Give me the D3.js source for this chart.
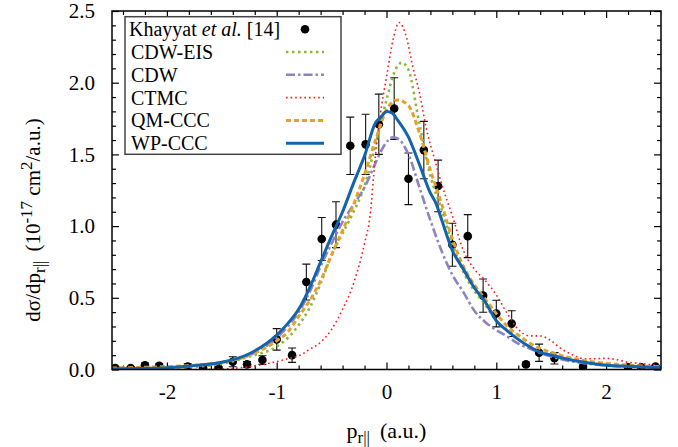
<!DOCTYPE html>
<html>
<head>
<meta charset="utf-8">
<script src="https://cdn.jsdelivr.net/npm/d3@7"></script>
<style>
  body { margin: 0; background: #fff; }
  svg text { font-family: "Liberation Serif", "Times New Roman", "DejaVu Serif", serif !important; }
</style>
</head>
<body>
<div id="chart"></div>
<script>

// Khayyat et al. [14] measured points
var expX = [-2.47,-2.33,-2.2,-2.07,-1.81,-1.67,-1.53,-1.4,-1.27,-1.13,-1.0,-0.86,-0.73,-0.59,-0.46,-0.33,-0.19,-0.07,0.07,0.2,0.34,0.47,0.6,0.74,0.88,1.0,1.14,1.27,1.39,1.53,1.79,2.2,2.32,2.45];
var expY = [0.01,0.01,0.03,0.025,0.02,0.01,0.01,0.054,0.036,0.066,0.21,0.1,0.61,0.91,1.01,1.56,1.57,1.71,1.82,1.33,1.53,1.28,0.87,0.93,0.515,0.39,0.32,0.036,0.117,0.078,0.02,0.015,0.015,0.02];
var expErr = [0.01,0.01,0.015,0.015,0.02,0.01,0.01,0.035,0.02,0.03,0.075,0.05,0.125,0.15,0.16,0.2,0.21,0.21,0.215,0.18,0.2,0.18,0.15,0.15,0.116,0.093,0.09,0.015,0.06,0.04,0.01,0.01,0.01,0.01];

// theory curves
var cdweisX = [-2.5,-2.25,-2,-1.75,-1.5,-1.25,-1,-0.9,-0.8,-0.7,-0.6,-0.5,-0.4,-0.3,-0.2,-0.1,0,0.07,0.14,0.2,0.3,0.4,0.5,0.6,0.7,0.8,0.9,1,1.1,1.2,1.3,1.4,1.5,1.6,1.8,2,2.2,2.5];
var cdweisY = [0.003,0.006,0.01,0.018,0.04,0.09,0.16,0.22,0.31,0.43,0.6,0.8,0.95,1.1,1.28,1.57,1.88,2.07,2.14,2.09,1.71,1.35,1.12,0.88,0.68,0.55,0.45,0.34,0.27,0.21,0.16,0.12,0.1,0.08,0.05,0.032,0.022,0.012];

var cdwX = [-2.5,-2.25,-2,-1.75,-1.5,-1.25,-1,-0.9,-0.8,-0.7,-0.6,-0.5,-0.4,-0.3,-0.2,-0.1,-0.03,0.06,0.12,0.2,0.3,0.4,0.5,0.6,0.7,0.8,0.9,1,1.1,1.2,1.3,1.4,1.5,1.6,1.8,2,2.2,2.5];
var cdwY = [0.003,0.007,0.013,0.025,0.05,0.1,0.22,0.3,0.4,0.54,0.72,0.88,1.03,1.15,1.27,1.44,1.55,1.62,1.6,1.5,1.27,1.04,0.83,0.66,0.54,0.41,0.33,0.275,0.23,0.18,0.148,0.115,0.09,0.07,0.044,0.028,0.02,0.012];

var ctmcX = [-2.5,-2,-1.75,-1.5,-1.25,-1,-0.9,-0.8,-0.7,-0.6,-0.5,-0.4,-0.3,-0.2,-0.15,-0.1,-0.06,0,0.06,0.115,0.18,0.24,0.3,0.36,0.44,0.5,0.6,0.7,0.8,0.9,1,1.1,1.2,1.3,1.4,1.5,1.6,1.7,1.8,1.9,2,2.1,2.2,2.3,2.4,2.5];
var ctmcY = [0,0,0,0.003,0.02,0.055,0.075,0.095,0.14,0.19,0.28,0.42,0.6,0.88,1.07,1.5,1.76,2.04,2.3,2.42,2.32,2.11,1.93,1.69,1.46,1.3,1.07,0.83,0.7,0.62,0.52,0.39,0.28,0.235,0.234,0.2,0.14,0.1,0.075,0.075,0.078,0.068,0.05,0.043,0.035,0.024];

var qmcccX = [-2.5,-2.25,-2,-1.75,-1.5,-1.25,-1,-0.9,-0.8,-0.7,-0.6,-0.5,-0.4,-0.3,-0.2,-0.1,0,0.1,0.2,0.3,0.4,0.5,0.6,0.7,0.8,0.9,1,1.1,1.2,1.3,1.4,1.5,1.6,1.8,2,2.2,2.5];
var qmcccY = [0.01,0.015,0.02,0.03,0.05,0.1,0.2,0.26,0.37,0.48,0.62,0.8,0.97,1.15,1.36,1.6,1.81,1.88,1.84,1.65,1.39,1.16,0.91,0.72,0.59,0.49,0.39,0.3,0.24,0.187,0.145,0.12,0.095,0.062,0.043,0.03,0.018];

var wpcccX = [-2.5,-2.25,-2,-1.75,-1.5,-1.25,-1,-0.9,-0.8,-0.7,-0.6,-0.5,-0.4,-0.3,-0.2,-0.1,-0.05,0,0.05,0.1,0.2,0.3,0.4,0.45,0.5,0.6,0.7,0.8,0.9,1,1.1,1.2,1.3,1.4,1.5,1.6,1.8,2,2.2,2.5];
var wpcccY = [0.003,0.007,0.013,0.027,0.05,0.11,0.24,0.32,0.42,0.57,0.75,0.93,1.1,1.3,1.49,1.72,1.76,1.8,1.79,1.74,1.62,1.43,1.23,1.16,1.05,0.83,0.7,0.57,0.47,0.34,0.27,0.21,0.16,0.12,0.1,0.08,0.05,0.03,0.022,0.012];

var xTicks = [-2, -1, 0, 1, 2];
var yTicks = [0, 0.5, 1, 1.5, 2, 2.5];

// set the dimensions and margins of the graph
var W = 678, H = 447;
var margin = {top: 11, right: 17, bottom: 77.5, left: 112},
    width = W - margin.left - margin.right,
    height = H - margin.top - margin.bottom;

var svg = d3.select("#chart")
  .append("svg")
  .attr("width", W)
  .attr("height", H)
  .attr("font-family", "Liberation Serif, serif")
  .append("g")
  .attr("transform", "translate(" + margin.left + "," + margin.top + ")");

var x = d3.scaleLinear().domain([-2.5, 2.5]).range([0, width]);
var y = d3.scaleLinear().domain([0, 2.5]).range([height, 0]);

// minor tick values
var xMinor = d3.range(-12, 13).map(function(i) { return i * 0.2; }).filter(function(v) { return Math.abs(v - Math.round(v)) > 1e-6; });
var yMinor = d3.range(0, 26).map(function(i) { return i * 0.1; }).filter(function(v) { return Math.abs(v * 2 - Math.round(v * 2)) > 1e-6; });

function styleAxis(g) {
  g.attr("font-family", null).attr("font-size", null);
  g.select(".domain").remove();
  g.selectAll("line").attr("stroke", "#000").attr("stroke-width", 1.2);
  g.selectAll("text").attr("fill", "#000").style("font-size", "21px");
}

// bottom / top ticks
svg.append("g").attr("transform", "translate(0," + height + ")")
  .call(d3.axisBottom(x).tickValues(xMinor).tickSize(-4).tickFormat(""))
  .call(styleAxis);
svg.append("g").attr("transform", "translate(0," + height + ")")
  .call(d3.axisBottom(x).tickValues(xTicks).tickSize(-7).tickPadding(15).tickFormat(function(d) { return String(d); }))
  .call(styleAxis);
svg.append("g")
  .call(d3.axisTop(x).tickValues(xMinor).tickSize(-4).tickFormat(""))
  .call(styleAxis);
svg.append("g")
  .call(d3.axisTop(x).tickValues(xTicks).tickSize(-7).tickFormat(""))
  .call(styleAxis);

// left / right ticks
svg.append("g")
  .call(d3.axisLeft(y).tickValues(yMinor).tickSize(-4).tickFormat(""))
  .call(styleAxis);
svg.append("g")
  .call(d3.axisLeft(y).tickValues(yTicks).tickSize(-7).tickPadding(17).tickFormat(d3.format(".1f")))
  .call(styleAxis);
svg.append("g").attr("transform", "translate(" + width + ",0)")
  .call(d3.axisRight(y).tickValues(yMinor).tickSize(-4).tickFormat(""))
  .call(styleAxis);
svg.append("g").attr("transform", "translate(" + width + ",0)")
  .call(d3.axisRight(y).tickValues(yTicks).tickSize(-7).tickFormat(""))
  .call(styleAxis);

// curves
var series = [
  {name: "CDW-EIS", xs: cdweisX, ys: cdweisY, color: "#8cb53c", w: 2.6, dash: "2.5,3.5"},
  {name: "CDW", xs: cdwX, ys: cdwY, color: "#8e83c2", w: 2.6, dash: "9,3,2.5,3"},
  {name: "CTMC", xs: ctmcX, ys: ctmcY, color: "#ff1a1a", w: 1.6, dash: "1.6,3"},
  {name: "QM-CCC", xs: qmcccX, ys: qmcccY, color: "#e3a02c", w: 3, dash: "5,3"},
  {name: "WP-CCC", xs: wpcccX, ys: wpcccY, color: "#1463ad", w: 3, dash: null}
];

var line = d3.line()
  .x(function(d) { return x(d[0]); })
  .y(function(d) { return y(d[1]); })
  .curve(d3.curveMonotoneX);

svg.append("clipPath").attr("id", "clip")
  .append("rect").attr("width", width).attr("height", height + 2).attr("y", -2);

var plot = svg.append("g").attr("clip-path", "url(#clip)");

// experimental points drawn first, curves over them
var pts = expX.map(function(v, i) { return {x: v, y: expY[i], e: expErr[i]}; });

var bars = plot.selectAll(".err").data(pts).enter().append("g");
bars.append("line")
  .attr("x1", function(d) { return x(d.x); }).attr("x2", function(d) { return x(d.x); })
  .attr("y1", function(d) { return y(d.y - d.e); }).attr("y2", function(d) { return y(d.y + d.e); });
bars.append("line")
  .attr("x1", function(d) { return x(d.x) - 4; }).attr("x2", function(d) { return x(d.x) + 4; })
  .attr("y1", function(d) { return y(d.y - d.e); }).attr("y2", function(d) { return y(d.y - d.e); });
bars.append("line")
  .attr("x1", function(d) { return x(d.x) - 4; }).attr("x2", function(d) { return x(d.x) + 4; })
  .attr("y1", function(d) { return y(d.y + d.e); }).attr("y2", function(d) { return y(d.y + d.e); });
bars.selectAll("line").attr("stroke", "#111").attr("stroke-width", 1.1);

plot.selectAll(".pt").data(pts).enter().append("circle")
  .attr("cx", function(d) { return x(d.x); })
  .attr("cy", function(d) { return y(d.y); })
  .attr("r", 4.3)
  .attr("fill", "#000");

series.forEach(function(s) {
  plot.append("path")
    .datum(s.xs.map(function(v, i) { return [v, s.ys[i]]; }))
    .attr("d", line)
    .attr("fill", "none")
    .attr("stroke", s.color)
    .attr("stroke-width", s.w)
    .attr("stroke-dasharray", s.dash);
});

// frame
svg.append("rect")
  .attr("width", width).attr("height", height)
  .attr("fill", "none").attr("stroke", "#000").attr("stroke-width", 1.5);

// legend
var lg = svg.append("g").attr("transform", "translate(" + (125 - margin.left) + "," + (16.7 - margin.top) + ")");
lg.append("rect").attr("width", 216).attr("height", 137.6)
  .attr("fill", "#fff").attr("stroke", "#444").attr("stroke-width", 1.5);

var rowY = function(i) { return 12.5 + i * 22.8; };

var t0 = lg.append("text").attr("x", 4).attr("y", rowY(0) + 7).style("font-size", "20px");
t0.append("tspan").text("Khayyat ");
t0.append("tspan").style("font-style", "italic").text("et al.");
t0.append("tspan").text(" [14]");
lg.append("circle").attr("cx", 180).attr("cy", rowY(0)).attr("r", 4.3).attr("fill", "#000");

series.forEach(function(s, i) {
  lg.append("text").attr("x", 6).attr("y", rowY(i + 1) + 7).style("font-size", "20px").text(s.name);
  lg.append("line")
    .attr("x1", 161).attr("x2", 199)
    .attr("y1", rowY(i + 1)).attr("y2", rowY(i + 1))
    .attr("stroke", s.color).attr("stroke-width", s.w)
    .attr("stroke-dasharray", s.dash);
});

// axis labels
var xl = svg.append("text")
  .attr("x", width / 2).attr("y", height + 68)
  .attr("text-anchor", "middle").style("font-size", "22px");
xl.append("tspan").text("p");
xl.append("tspan").attr("dy", 5).style("font-size", "17px").text("r||");
xl.append("tspan").attr("dy", -5).attr("dx", 10).text("(a.u.)");

var yl = svg.append("text")
  .attr("transform", "translate(" + (-72) + "," + (220 - margin.top) + ") rotate(-90)")
  .attr("text-anchor", "middle").style("font-size", "21px");
yl.append("tspan").text("d\u03c3/dp");
yl.append("tspan").attr("dy", 5).style("font-size", "17px").text("r||");
yl.append("tspan").attr("dy", -5).attr("dx", 9).text("(10");
yl.append("tspan").attr("dy", -8).style("font-size", "17px").text("-17");
yl.append("tspan").attr("dy", 8).text(" cm");
yl.append("tspan").attr("dy", -8).style("font-size", "17px").text("2");
yl.append("tspan").attr("dy", 8).text("/a.u.)");

</script>
</body>
</html>
